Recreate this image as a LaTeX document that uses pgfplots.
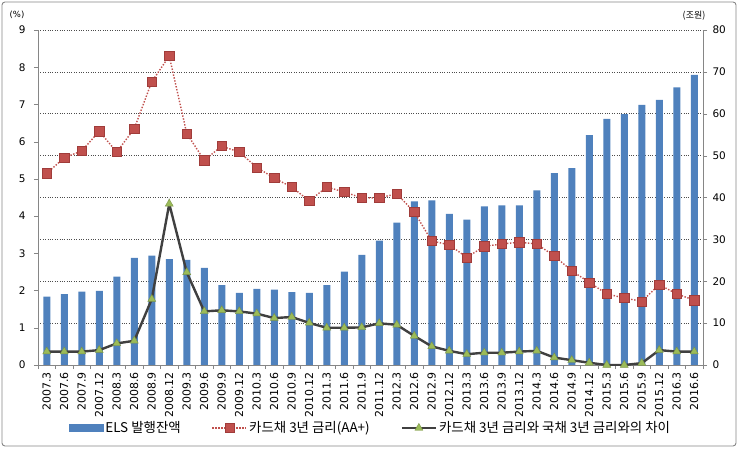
\documentclass[border=0pt]{standalone}
\usepackage{fontspec}
\setmainfont{DejaVu Sans}
\newfontfamily\kr{Noto Sans CJK KR}
\usepackage{pgfplots}
\usepackage{pgfplotstable}
\pgfplotsset{compat=1.18}
\definecolor{elsblue}{RGB}{79,129,189}
\definecolor{cardred}{RGB}{192,80,77}
\definecolor{cardredd}{RGB}{160,60,58}
\definecolor{sprgreen}{RGB}{155,187,89}
\definecolor{sprline}{RGB}{64,64,64}
\definecolor{axgray}{RGB}{134,134,134}
\pgfplotsset{mylineleg/.style={legend image code/.code={\draw[mark repeat=2,mark phase=2,##1] plot coordinates {(0bp,0bp) (17bp,0bp) (34bp,0bp)};}}}
\pgfplotsset{mybarleg/.style={legend image code/.code={\fill[elsblue] (0bp,-3.5bp) rectangle (34bp,3.5bp);}}}

\pgfplotstableread{
x bar rate spread
0 16.3 5.15 0.36
1 16.9 5.57 0.36
2 17.5 5.75 0.36
3 17.7 6.28 0.40
4 21.1 5.72 0.58
5 25.6 6.35 0.65
6 26.1 7.61 1.77
7 25.3 8.30 4.33
8 25.1 6.22 2.49
9 23.2 5.50 1.44
10 19.1 5.88 1.47
11 17.2 5.72 1.44
12 18.2 5.31 1.38
13 18.0 5.02 1.26
14 17.4 4.78 1.29
15 17.2 4.41 1.13
16 19.1 4.78 1.00
17 22.3 4.65 1.00
18 26.3 4.49 1.01
19 29.7 4.49 1.12
20 34.0 4.60 1.08
21 39.1 4.11 0.78
22 39.3 3.33 0.50
23 36.1 3.23 0.38
24 34.7 2.89 0.29
25 37.9 3.19 0.33
26 38.1 3.25 0.33
27 38.1 3.30 0.36
28 41.7 3.25 0.38
29 45.8 2.93 0.20
30 47.0 2.53 0.13
31 54.9 2.22 0.06
32 58.8 1.91 0.00
33 59.9 1.80 0.00
34 62.1 1.71 0.05
35 63.3 2.16 0.40
36 66.3 1.91 0.36
37 69.3 1.74 0.36
}\data

\begin{document}
\begin{tikzpicture}
\useasboundingbox (-38bp,-86bp) rectangle (701bp,365bp);
\draw[axgray, line width=0.9bp, rounded corners=3bp] (-36bp,-81bp) rectangle (698bp,363bp);

% right axis: bars
\begin{axis}[
  at={(0,0)}, anchor=south west,
  width=665bp, height=335bp, scale only axis,
  xmin=-0.5, xmax=37.5,
  ymin=0, ymax=80,
  hide x axis,
  axis y line*=right,
  axis line style={-, axgray},
  ytick={0,10,...,80},
  ymajorgrids,
  grid style={dotted, black!70, line width=0.6bp},
  tick align=outside,
  major tick length=4bp,
  ytick style={axgray},
  yticklabel style={font=\fontsize{10.5}{12}\selectfont, xshift=2bp},
  /pgf/number format/assume math mode=true,
]
\addplot[ybar, bar width=7bp, fill=elsblue, draw=none, bar shift=0pt] table[x=x, y=bar] {\data};
\end{axis}

% left axis: rates
\begin{axis}[
  at={(0,0)}, anchor=south west,
  width=665bp, height=335bp, scale only axis,
  xmin=-0.5, xmax=37.5,
  ymin=0, ymax=9,
  axis y line*=left,
  axis x line*=bottom,
  axis line style={-, axgray},
  ytick={0,1,...,9},
  xtick={0,...,37},
  xticklabels={2007.3,2007.6,2007.9,2007.12,2008.3,2008.6,2008.9,2008.12,2009.3,2009.6,2009.9,2009.12,2010.3,2010.6,2010.9,2010.12,2011.3,2011.6,2011.9,2011.12,2012.3,2012.6,2012.9,2012.12,2013.3,2013.6,2013.9,2013.12,2014.3,2014.6,2014.9,2014.12,2015.3,2015.6,2015.9,2015.12,2016.3,2016.6},
  major x tick style={draw=none},
  minor xtick={-0.5,0.5,...,37.5},
  tick align=outside,
  major tick length=4bp,
  minor tick length=4bp,
  tick style={axgray},
  xticklabel style={font=\fontsize{11}{12}\selectfont, rotate=90, anchor=east},
  yticklabel style={font=\fontsize{10.5}{12}\selectfont, xshift=-5bp},
  /pgf/number format/assume math mode=true,
  legend style={at={(0.5,-0.188)}, anchor=center, draw=none, fill=none,
    font=\kr\fontsize{13.5}{15}\selectfont, inner sep=0pt,
    /tikz/every even column/.append style={column sep=29bp}},
  legend columns=3,
  legend cell align=left,
]
\addlegendimage{mybarleg}
\addlegendentry{ELS 발행잔액}
\addplot[cardred, line width=1.4bp, dash pattern=on 1.4bp off 1.6bp,
  mark=square*, mark size=4.6bp, mark options={solid, fill=cardred, draw=cardredd, line width=0.5bp},
  mylineleg]
  table[x=x, y=rate] {\data};
\addlegendentry{카드채 3년 금리(AA+)}
\addplot[sprline, line width=2.4bp,
  mark=triangle*, mark size=4.6bp, mark options={fill=sprgreen, draw=sprgreen!80!black, line width=0.4bp},
  mylineleg]
  table[x=x, y=spread] {\data};
\addlegendentry{카드채 3년 금리와 국채 3년 금리와의 차이}
\end{axis}

\node[font=\fontsize{8.5}{10}\selectfont] at (-21bp,350bp) {(\%)};
\node[font=\kr\fontsize{9}{10}\selectfont] at (656bp,349bp) {(조원)};
\end{tikzpicture}
\end{document}
